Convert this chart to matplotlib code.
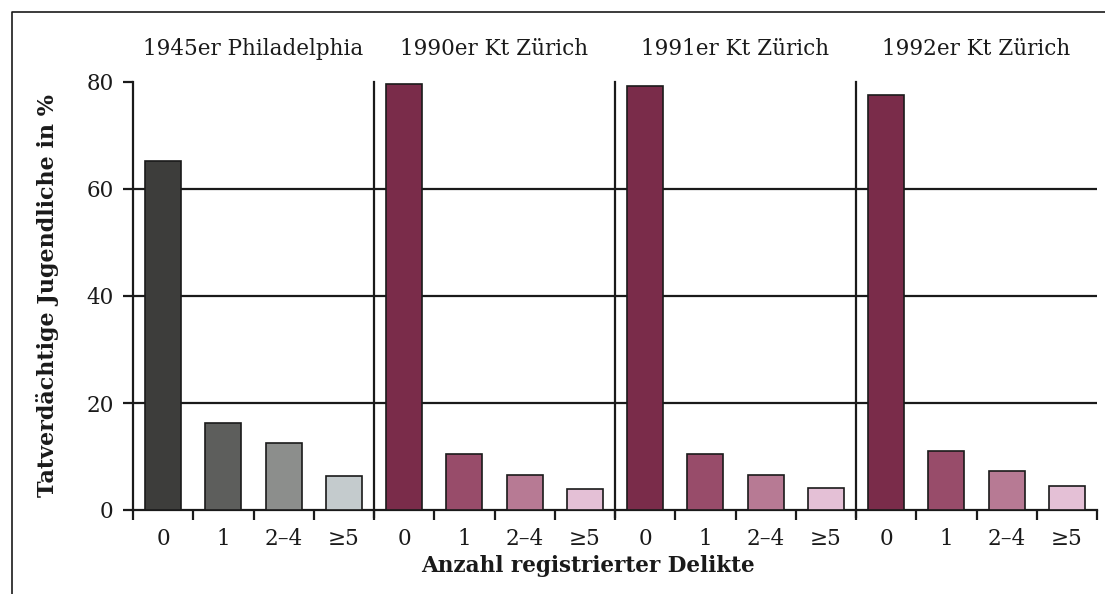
import numpy as np
import matplotlib
matplotlib.use('Agg')
import matplotlib.pyplot as plt
from matplotlib.lines import Line2D

# Data
panels = ['1945er Philadelphia', '1990er Kt Zürich', '1991er Kt Zürich', '1992er Kt Zürich']
categories = ['0', '1', '2–4', '≥5']
philadelphia_1945 = [65.3, 16.3, 12.5, 6.3]
zurich_1990 = [79.6, 10.4, 6.5, 3.9]
zurich_1991 = [79.3, 10.4, 6.6, 4.2]
zurich_1992 = [77.6, 11.0, 7.2, 4.5]
series = [philadelphia_1945, zurich_1990, zurich_1991, zurich_1992]

grey_colors = ['#3d3d3b', '#5d5e5c', '#8c8e8c', '#c4cbcd']
wine_colors = ['#7a2c4a', '#984c6a', '#b77a94', '#e4c0d6']

plt.rcParams['font.family'] = ['DejaVu Serif']

fig = plt.figure(figsize=(11.05, 5.94), dpi=100)
ax = fig.add_axes([133/1105, 84/594, (1097-133)/1105, (510-82)/594])

# gridlines behind the bars
for yv in [20, 40, 60]:
    ax.axhline(yv, color='#1a1a1a', lw=1.6, zorder=1)

n = len(categories)
for p, vals in enumerate(series):
    cols = grey_colors if p == 0 else wine_colors
    x = np.arange(n) + p * n
    ax.bar(x, vals, width=0.6, color=cols, edgecolor='#1a1a1a', lw=1.2, zorder=3)
    ax.text(p * n + (n - 1) / 2, 84.2, panels[p], ha='center', va='bottom',
            fontsize=15.5, color='#1a1a1a')
    if p > 0:
        ax.plot([p * n - 0.5, p * n - 0.5], [-1.4, 80], color='#1a1a1a', lw=1.6,
                zorder=4, clip_on=False)

ax.set_xlim(-0.5, len(series) * n - 0.5)
ax.set_ylim(0, 80)
ax.set_yticks([0, 20, 40, 60, 80])
ax.set_xticks(np.arange(len(series) * n))
ax.set_xticklabels(categories * len(series))
ax.set_xticks(np.arange(len(series) * n + 1) - 0.5, minor=True)
ax.tick_params(axis='x', which='major', length=0, pad=13, labelsize=15.5, colors='#1a1a1a')
ax.tick_params(axis='x', which='minor', length=7, width=1.6, direction='out', color='#1a1a1a')
ax.tick_params(axis='y', length=7, width=1.6, pad=7, labelsize=15.5, colors='#1a1a1a')

for s in ['top', 'right']:
    ax.spines[s].set_visible(False)
for s in ['left', 'bottom']:
    ax.spines[s].set_linewidth(1.6)
    ax.spines[s].set_color('#1a1a1a')

ax.set_ylabel('Tatverdächtige Jugendliche in %', fontsize=16, fontweight='bold',
              color='#1a1a1a')
ax.yaxis.set_label_coords(-(133 - 59) / (1097 - 133), 0.5)
ax.set_xlabel('Anzahl registrierter Delikte', fontsize=15.5, fontweight='bold',
              color='#1a1a1a')
ax.xaxis.set_label_coords((588 - 133) / (1097 - 133), -0.105)

# frame line on the left and top of the figure
fx = 12 / 1105
fy = 1 - 12 / 594
fig.add_artist(Line2D([fx, fx, 1], [0, fy, fy], transform=fig.transFigure,
                      color='#1a1a1a', lw=1.2))

plt.savefig('out.png', dpi=100)
